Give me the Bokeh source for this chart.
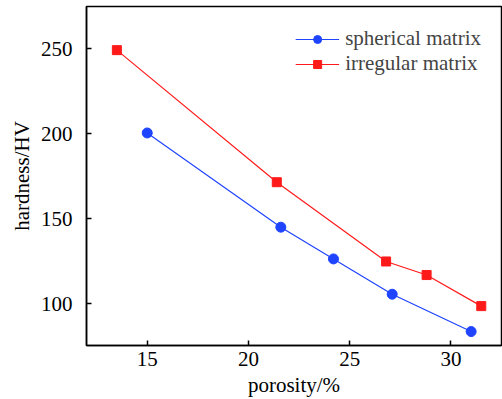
from bokeh.plotting import figure
from bokeh.models import Range1d, FixedTicker, Legend, LegendItem
from bokeh.embed import file_html
from bokeh.resources import INLINE

# data
sph_x = [15.0, 21.6, 24.2, 27.1, 31.0]
sph_y = [200.5, 145.0, 126.3, 105.5, 83.5]
irr_x = [13.5, 21.4, 26.8, 28.8, 31.5]
irr_y = [249.3, 171.5, 124.8, 116.8, 98.5]
x_ticks = [15, 20, 25, 30]
y_ticks = [100, 150, 200, 250]

FONT = "Liberation Serif"

p = figure(width=502, height=399, output_backend="svg", toolbar_location=None,
           x_range=Range1d(12.0, 32.5), y_range=Range1d(75.3, 275.0),
           min_border_left=86, min_border_right=1, min_border_top=6, min_border_bottom=54)
p.xgrid.visible = False
p.ygrid.visible = False
p.background_fill_color = "white"
p.border_fill_color = "white"
p.outline_line_color = "black"
p.outline_line_width = 1.5

for ax in (p.xaxis[0], p.yaxis[0]):
    ax.axis_line_color = "black"
    ax.axis_line_width = 1.5
    ax.major_tick_in = 5
    ax.major_tick_out = 0
    ax.minor_tick_in = 0
    ax.minor_tick_out = 0
    ax.major_tick_line_width = 1.5
    ax.major_label_text_font = FONT
    ax.major_label_text_font_size = "21px"
    ax.major_label_text_color = "black"
    ax.axis_label_text_font = FONT
    ax.axis_label_text_font_size = "21px"
    ax.axis_label_text_font_style = "normal"
    ax.axis_label_text_color = "black"

p.xaxis.ticker = FixedTicker(ticks=x_ticks)
p.yaxis.ticker = FixedTicker(ticks=y_ticks)
p.xaxis.axis_label = "porosity/%"
p.yaxis.axis_label = "hardness/HV"
p.xaxis.major_label_standoff = 6
p.yaxis.major_label_standoff = 14
p.xaxis.axis_label_standoff = 4
p.yaxis.axis_label_standoff = 4

BLUE = "#1f44ff"
RED = "#ff1a1a"
l1 = p.line(sph_x, sph_y, line_color=BLUE, line_width=1.2)
m1 = p.scatter(sph_x, sph_y, marker="circle", size=10, fill_color=BLUE, line_color=BLUE)
l2 = p.line(irr_x, irr_y, line_color=RED, line_width=1.2)
m2 = p.scatter(irr_x, irr_y, marker="square", size=9, fill_color=RED, line_color=RED)

legend = Legend(items=[LegendItem(label="spherical matrix", renderers=[l1, m1]),
                       LegendItem(label="irregular matrix", renderers=[l2, m2])],
                location="top_right")
legend.border_line_alpha = 0
legend.background_fill_alpha = 0
legend.label_text_font = FONT
legend.label_text_font_size = "21px"
legend.glyph_width = 44
legend.label_standoff = 6
legend.spacing = 0
legend.padding = 4
legend.margin = 16
p.add_layout(legend)

open("out.html", "w").write(file_html(p, INLINE))
